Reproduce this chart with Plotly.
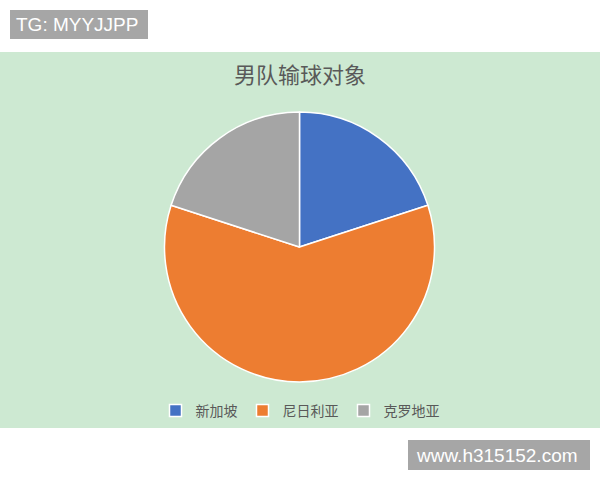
import plotly.graph_objects as go

# data
opponents = ["新加坡", "尼日利亚", "克罗地亚"]
losses = [1, 3, 1]
sliceColors = ["#4472C4", "#ED7D31", "#A5A5A5"]

chartTitle = "男队输球对象"
tagText = "TG: MYYJJPP"
siteText = "www.h315152.com"

fig = go.Figure()

fig.add_trace(go.Pie(
    labels=opponents,
    values=losses,
    sort=False,
    direction="clockwise",
    rotation=0,
    textinfo="none",
    hoverinfo="label+value+percent",
    marker=dict(colors=sliceColors, line=dict(color="#FFFFFF", width=1.5)),
    domain=dict(x=[164 / 600, 435 / 600], y=[1 - 382 / 480, 1 - 112 / 480]),
))

fig.update_layout(
    width=600,
    height=480,
    margin=dict(l=0, r=0, t=0, b=0),
    paper_bgcolor="#FFFFFF",
    plot_bgcolor="#FFFFFF",
    font=dict(family="Noto Sans CJK SC, sans-serif", color="#595959"),
    showlegend=True,
    legend=dict(
        orientation="h",
        x=0.5, xanchor="center",
        y=1 - 411 / 480, yanchor="middle",
        font=dict(size=14, color="#595959"),
        bgcolor="rgba(0,0,0,0)",
        itemclick=False,
    ),
    shapes=[
        # green chart area
        dict(type="rect", xref="paper", yref="paper", layer="below",
             x0=0, x1=1, y0=1 - 428 / 480, y1=1 - 52 / 480,
             fillcolor="#CDE9D2", line=dict(width=0)),
        # grey label boxes
        dict(type="rect", xref="paper", yref="paper",
             x0=10 / 600, x1=148 / 600, y0=1 - 39 / 480, y1=1 - 10 / 480,
             fillcolor="#A6A6A6", line=dict(width=0)),
        dict(type="rect", xref="paper", yref="paper",
             x0=408 / 600, x1=590 / 600, y0=1 - 470 / 480, y1=1 - 440 / 480,
             fillcolor="#A6A6A6", line=dict(width=0)),
    ],
    annotations=[
        dict(text=chartTitle, xref="paper", yref="paper", x=0.5, y=1 - 73 / 480,
             xanchor="center", yanchor="middle", showarrow=False,
             font=dict(size=22, color="#595959")),
        dict(text=tagText, xref="paper", yref="paper", x=14 / 600, y=1 - 24.5 / 480,
             xanchor="left", yanchor="middle", showarrow=False,
             font=dict(family="Liberation Sans, Arial, sans-serif", size=19, color="#FFFFFF")),
        dict(text=siteText, xref="paper", yref="paper", x=414 / 600, y=1 - 455 / 480,
             xanchor="left", yanchor="middle", showarrow=False,
             font=dict(family="Liberation Sans, Arial, sans-serif", size=19, color="#FFFFFF")),
    ],
)

# the page body has a default 8px margin; drop it so the figure sits at 0,0
fig.write_html("out.html", config={"displayModeBar": False},
               post_script="document.body.style.margin='0';")
